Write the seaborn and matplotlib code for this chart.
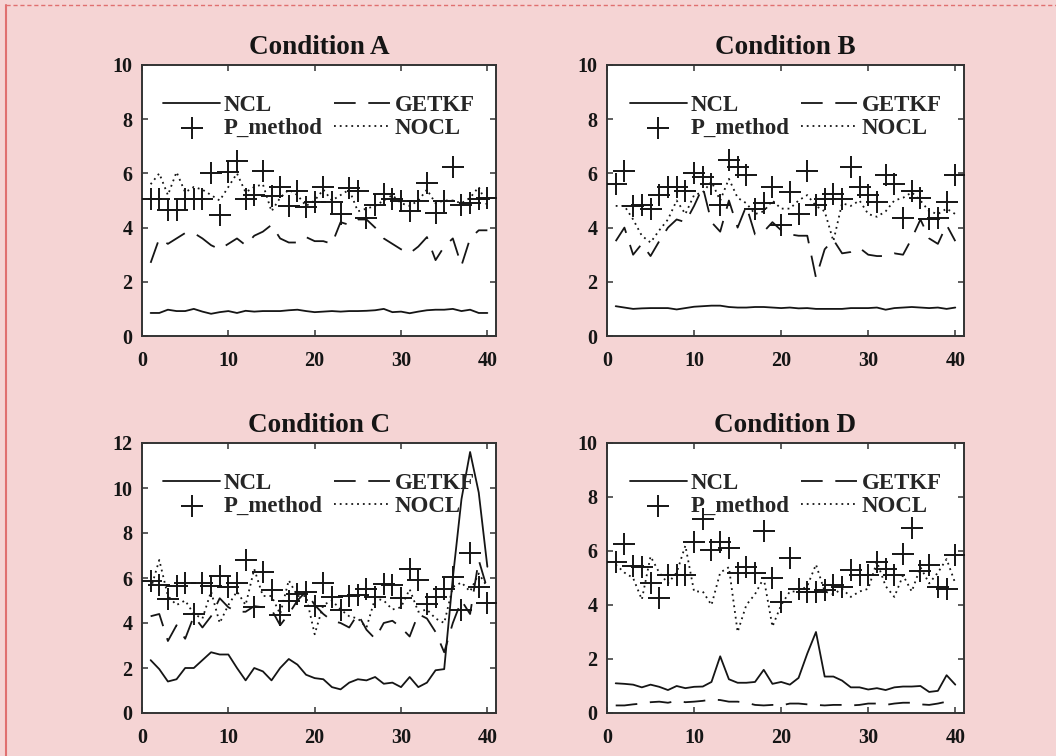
import numpy as np
import pandas as pd
import matplotlib
matplotlib.use("Agg")
import matplotlib.pyplot as plt
from matplotlib.lines import Line2D
import seaborn as sns

x = list(range(1, 41))

ncl_a = [0.85, 0.85, 0.97, 0.92, 0.92, 1.0, 0.9, 0.82, 0.88, 0.92, 0.85, 0.93, 0.9, 0.92, 0.92, 0.92, 0.95, 0.97, 0.92, 0.88,
         0.9, 0.92, 0.9, 0.92, 0.92, 0.93, 0.95, 1.0, 0.88, 0.9, 0.84, 0.9, 0.95, 0.97, 0.97, 1.0, 0.92, 0.97, 0.85, 0.85]
getkf_a = [2.7, 3.6, 3.4, 3.6, 3.8, 3.8, 3.6, 3.35, 3.2, 3.4, 3.6, 3.35, 3.7, 3.85, 4.1, 3.6, 3.45, 3.45, 3.65, 3.5,
           3.5, 3.4, 4.2, 4.1, 4.3, 4.3, 4.0, 3.6, 3.4, 3.2, 3.05, 3.3, 3.65, 2.8, 3.3, 3.6, 2.6, 3.6, 3.9, 3.9]
pm_a = [5.05, 5.05, 4.65, 4.65, 5.05, 5.05, 5.05, 6.0, 4.45, 6.05, 6.45, 5.05, 5.2, 6.1, 5.15, 5.5, 4.8, 5.35, 4.75, 4.95,
        5.5, 4.95, 4.5, 5.45, 5.35, 4.35, 4.85, 5.25, 5.05, 5.0, 4.6, 5.0, 5.65, 4.55, 5.0, 6.25, 4.85, 4.9, 5.05, 5.1]
nocl_a = [5.6, 6.0, 5.2, 6.05, 5.3, 5.5, 5.4, 5.2, 5.0, 5.5, 6.0, 5.3, 5.5, 5.6, 4.6, 5.1, 5.4, 5.2, 4.8, 5.0,
          5.4, 5.0, 5.2, 5.4, 4.6, 4.7, 4.8, 5.0, 5.2, 4.9, 4.8, 5.0, 5.4, 4.9, 5.0, 5.0, 4.9, 5.1, 5.5, 4.8]

ncl_b = [1.1, 1.05, 1.0, 1.02, 1.03, 1.03, 1.03, 0.98, 1.03, 1.08, 1.1, 1.12, 1.12, 1.07, 1.05, 1.05, 1.07, 1.07, 1.05, 1.03,
         1.05, 1.02, 1.03, 1.0, 1.0, 1.0, 1.0, 1.03, 1.03, 1.03, 1.05, 0.97, 1.03, 1.05, 1.07, 1.05, 1.03, 1.05, 1.0, 1.05]
getkf_b = [3.5, 4.0, 3.0, 3.4, 2.95, 3.5, 4.0, 4.3, 4.2, 4.8, 5.5, 4.2, 3.85, 5.0, 4.0, 4.8, 3.75, 3.85, 4.2, 3.9,
           3.75, 3.7, 3.7, 2.15, 3.2, 3.55, 3.05, 3.1, 3.25, 3.0, 2.95, 2.95, 3.05, 3.0, 3.6, 4.3, 3.6, 3.4, 4.1, 3.5]
pm_b = [5.6, 6.1, 4.8, 4.85, 4.7, 5.2, 5.5, 5.5, 5.35, 6.0, 5.85, 5.6, 4.85, 6.5, 6.25, 5.95, 4.7, 4.9, 5.5, 4.1,
        5.3, 4.5, 6.1, 4.85, 5.05, 5.25, 5.05, 6.25, 5.5, 5.2, 4.95, 5.95, 5.6, 4.35, 5.35, 5.1, 4.3, 4.35, 4.95, 5.95]
nocl_b = [4.8, 4.8, 4.3, 3.7, 3.45, 3.9, 4.3, 5.0, 4.5, 5.2, 5.3, 5.7, 5.0, 5.8, 5.1, 4.9, 4.5, 4.6, 5.0, 4.7,
          4.7, 5.0, 5.2, 4.8, 4.6, 3.5, 4.9, 4.8, 5.0, 4.5, 4.4, 4.6, 5.0, 5.1, 5.3, 5.0, 4.6, 4.5, 4.7, 4.5]

ncl_c = [2.35, 1.95, 1.4, 1.5, 2.0, 2.0, 2.35, 2.7, 2.6, 2.6, 2.0, 1.45, 2.0, 1.85, 1.45, 2.0, 2.4, 2.15, 1.7, 1.55,
         1.5, 1.15, 1.05, 1.35, 1.5, 1.45, 1.6, 1.3, 1.35, 1.15, 1.6, 1.15, 1.35, 1.9, 1.95, 6.0, 9.5, 11.6, 9.8, 6.5]
getkf_c = [4.3, 4.4, 3.2, 3.9, 3.3, 4.3, 3.8, 4.3, 5.1, 4.7, 4.5, 4.5, 4.75, 4.7, 4.6, 3.9, 4.4, 5.0, 5.4, 4.8,
           4.4, 4.1, 4.0, 3.8, 4.4, 3.7, 3.3, 4.0, 4.1, 3.8, 3.4, 4.4, 4.2, 3.6, 2.7, 4.0, 5.0, 4.4, 6.8, 5.5]
pm_c = [5.85, 5.7, 5.05, 5.65, 5.8, 4.4, 5.8, 5.65, 6.1, 5.6, 5.8, 6.8, 4.7, 6.25, 5.45, 4.35, 5.0, 5.3, 5.4, 4.75,
        5.8, 5.15, 4.6, 5.2, 5.25, 5.5, 5.15, 5.75, 5.7, 5.1, 6.4, 5.9, 4.85, 5.15, 5.5, 6.05, 4.6, 7.1, 5.6, 4.9]
nocl_c = [5.5, 6.8, 5.2, 4.8, 5.0, 4.4, 4.2, 5.4, 4.0, 4.8, 5.4, 4.8, 6.4, 5.2, 5.2, 4.4, 5.9, 5.2, 5.2, 3.5,
          4.8, 5.0, 4.6, 4.3, 4.2, 3.8, 5.1, 5.0, 4.6, 4.7, 5.5, 4.5, 4.6, 4.2, 4.0, 5.6, 5.8, 5.4, 6.2, 5.6]

ncl_d = [1.1, 1.08, 1.05, 0.95, 1.05, 0.97, 0.85, 1.0, 0.92, 0.97, 0.98, 1.15, 2.1, 1.25, 1.12, 1.12, 1.15, 1.6, 1.08, 1.15,
         1.05, 1.3, 2.2, 3.0, 1.35, 1.35, 1.2, 0.95, 0.95, 0.87, 0.92, 0.85, 0.95, 0.98, 0.98, 1.0, 0.78, 0.82, 1.4, 1.05]
getkf_d = [0.28, 0.28, 0.32, 0.35, 0.4, 0.42, 0.38, 0.45, 0.4, 0.42, 0.45, 0.5, 0.48, 0.42, 0.42, 0.38, 0.3, 0.28, 0.3, 0.28,
           0.35, 0.35, 0.32, 0.3, 0.28, 0.3, 0.3, 0.28, 0.3, 0.35, 0.35, 0.3, 0.35, 0.38, 0.38, 0.32, 0.3, 0.35, 0.42, 0.38]
pm_d = [5.6, 6.25, 5.45, 5.4, 4.8, 4.25, 5.1, 5.1, 5.1, 6.35, 7.2, 6.05, 6.35, 6.1, 5.2, 5.4, 5.2, 6.75, 5.0, 4.1,
        5.75, 4.6, 4.5, 4.5, 4.55, 4.75, 4.65, 5.3, 5.1, 5.1, 5.6, 5.35, 5.1, 5.9, 6.85, 5.25, 5.5, 4.65, 4.6, 5.85]
nocl_d = [5.5, 5.2, 5.0, 4.2, 5.8, 5.2, 4.8, 5.2, 6.2, 4.5, 4.5, 4.0, 5.2, 5.4, 3.0, 4.0, 4.4, 5.0, 3.2, 4.0,
          4.5, 4.5, 4.7, 5.5, 4.5, 4.4, 4.6, 4.3, 4.5, 4.6, 5.6, 4.7, 4.3, 5.1, 4.5, 5.4, 4.8, 5.2, 5.7, 4.8]

titles = ["Condition A", "Condition B", "Condition C", "Condition D"]
series_names = ["NCL", "GETKF", "P_method", "NOCL"]
panels = [
    (ncl_a, getkf_a, pm_a, nocl_a),
    (ncl_b, getkf_b, pm_b, nocl_b),
    (ncl_c, getkf_c, pm_c, nocl_c),
    (ncl_d, getkf_d, pm_d, nocl_d),
]
ylims = [10, 10, 12, 10]

sns.set_style("white")
plt.rcParams['font.family'] = ['Liberation Serif', 'DejaVu Serif']
plt.rcParams['font.weight'] = 'bold'

BG = '#f5d4d4'
INK = '#151515'
fig = plt.figure(figsize=(10.56, 7.56), dpi=100, facecolor=BG)

W, H = 1056, 756
boxes = [(142, 65, 496, 336), (607, 65, 964, 336), (142, 443, 496, 713), (607, 443, 964, 713)]

for i, (l, t, r, b) in enumerate(boxes):
    ax = fig.add_axes([l / W, 1 - b / H, (r - l) / W, (b - t) / H])
    ax.set_facecolor('white')
    ncl, getkf, pm, nocl = panels[i]
    df = pd.DataFrame({"x": x, "NCL": ncl, "GETKF": getkf, "P_method": pm, "NOCL": nocl})
    sns.lineplot(data=df, x="x", y="NCL", ax=ax, color=INK, lw=1.3, label="NCL")
    sns.lineplot(data=df, x="x", y="GETKF", ax=ax, color=INK, lw=1.3, label="GETKF",
                 dashes=False, linestyle=(0, (12, 7)))
    sns.scatterplot(data=df, x="x", y="P_method", ax=ax, color=INK, marker='+', s=250,
                    linewidth=1.4, label="P_method", zorder=3)
    sns.lineplot(data=df, x="x", y="NOCL", ax=ax, color=INK, lw=1.3, label="NOCL",
                 dashes=False, linestyle=(0, (1, 2.2)))
    ax.set_xlim(0, 41)
    ax.set_ylim(0, ylims[i])
    ax.set_xticks([0, 10, 20, 30, 40])
    ax.set_yticks(list(range(0, ylims[i] + 1, 2)))
    ax.set_xlabel("")
    ax.set_ylabel("")
    for sp in ax.spines.values():
        sp.set_visible(True)
        sp.set_color('#333333')
        sp.set_linewidth(1.4)
    ax.tick_params(axis='both', which='both', direction='in', length=4, width=1.1,
                   top=True, right=True, bottom=True, left=True, colors='#333333',
                   labelcolor=INK, labelsize=14.5)
    ax.tick_params(axis='x', pad=11)
    ax.tick_params(axis='y', pad=7)
    for lab in ax.get_xticklabels() + ax.get_yticklabels():
        lab.set_fontweight('bold')
    ax.set_title(titles[i], fontsize=19.5, fontweight='bold', color=INK, pad=8)

    handles, labels = ax.get_legend_handles_labels()
    hmap = dict(zip(labels, handles))
    order = ["NCL", "P_method", "GETKF", "NOCL"]
    ax.legend([hmap[k] for k in order], order, loc='upper center', bbox_to_anchor=(0.5, 0.93),
              ncol=2, frameon=False, prop={'family': 'Liberation Serif', 'weight': 'bold', 'size': 16.5},
              handlelength=2.5, handletextpad=0.15, columnspacing=0.5, labelspacing=0.05,
              borderaxespad=0.1)

# page border decoration
fig.add_artist(Line2D([6 / W, 6 / W], [0, 1 - 5 / H], color='#e07070', lw=1.5, transform=fig.transFigure))
fig.add_artist(Line2D([6 / W, 1], [1 - 5 / H, 1 - 5 / H], color='#e07070', lw=1.0,
                      linestyle=(0, (3, 2)), transform=fig.transFigure))

fig.savefig("out.png", dpi=100, facecolor=BG)
